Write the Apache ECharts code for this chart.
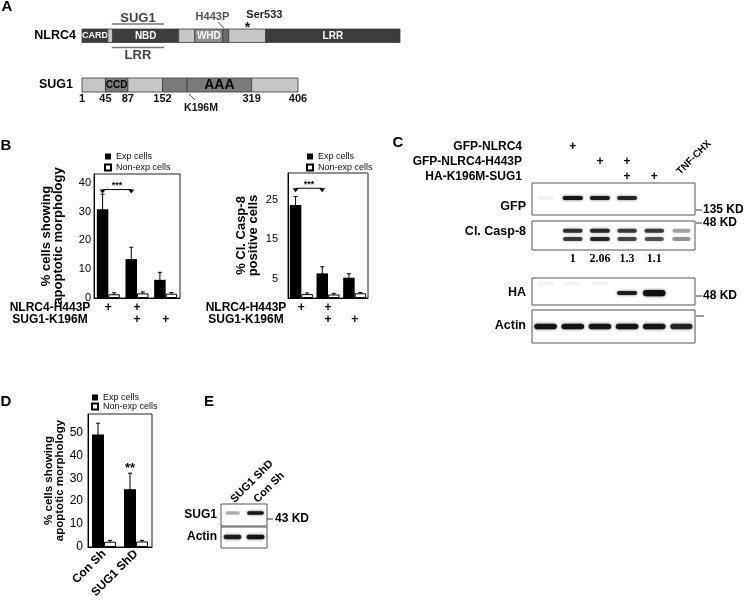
<!DOCTYPE html>
<html>
<head>
<meta charset="UTF-8">
<script src="https://cdn.jsdelivr.net/npm/echarts/dist/echarts.min.js"></script>
<style>
html, body { margin: 0; background: #fff; }
#container { width: 745px; height: 605px; }
</style>
</head>
<body>
<div id="container"></div>
<script>
// ---------- data ----------
// A: domain maps (amino-acid positions)
var nlrc4Domains = [[1, 84, 'CARD', 'core'], [84, 100, '', 'linker'], [100, 312, 'NBD', 'core'], [312, 364, '', 'linker'],
  [364, 454, 'WHD', 'whd'], [454, 473, '', 'site'], [473, 592, '', 'linker'], [592, 1024, 'LRR', 'core']];
var nlrc4Binding = [[97, 265]];
var nlrc4BindingLabels = ['SUG1', 'LRR'];
var nlrc4Sites = [[443], [533]];
var nlrc4SiteLabels = ['H443P', 'Ser533'];
var sug1Domains = [[1, 45, '', 'linker'], [45, 87, 'CCD', 'grey'], [87, 152, '', 'linker'], [152, 198, '', 'grey'],
  [198, 319, 'AAA', 'grey'], [319, 406, '', 'linker']];
var sug1Ticks = [1, 45, 87, 152, 319, 406];
var sug1Mutation = [[196]];
var sug1MutationLabel = 'K196M';

// B: apoptosis / cleaved caspase-8
var groupsB = ['a', 'b', 'c'];
var rowH443P = ['+', '+', ''];
var rowK196M = ['', '+', '+'];
var apopExp = [30.8, 13.5, 6.3];
var apopExpErr = [5.2, 4.1, 2.6];
var apopNon = [1.3, 1.6, 1.5];
var apopNonErr = [0.5, 0.5, 0.4];
var caspExp = [23.8, 6.3, 5.2];
var caspExpErr = [2.2, 1.7, 1.0];
var caspNon = [1.0, 0.9, 1.2];
var caspNonErr = [0.3, 0.3, 0.2];

// C: western blots, [lane, relative position in box, signal]
var lanesC = ['0', '1', '2', '3', '4', '5'];
var laneGfpNlrc4 = ['', '+', '', '', '', ''];
var laneGfpH443P = ['', '', '+', '+', '', ''];
var laneHaK196M = ['', '', '', '+', '+', ''];
var laneTnf = [[5]];
var laneTnfLabel = 'TNF-CHX';
var casp8Quant = ['', '1', '2.06', '1.3', '1.1', ''];
var gfpBands = [[0, 0.53, 0.05], [1, 0.53, 0.95], [2, 0.53, 0.9], [3, 0.53, 0.85]];
var casp8Bands = [[1, 0.66, 0.8], [2, 0.66, 0.85], [3, 0.66, 0.75], [4, 0.66, 0.75], [5, 0.66, 0.35],
  [1, 0.38, 0.75], [2, 0.38, 0.85], [3, 0.38, 0.7], [4, 0.38, 0.65], [5, 0.38, 0.4]];
var haBands = [[0, 0.8, 0.05], [1, 0.8, 0.05], [2, 0.8, 0.05], [3, 0.44, 0.9], [4, 0.44, 1.6]];
var actinBands = [[0, 0.5, 0.95], [1, 0.5, 0.95], [2, 0.5, 0.95], [3, 0.5, 0.95], [4, 0.5, 0.95], [5, 0.5, 0.85]];

// D: knock-down
var shGroups = ['Con Sh', 'SUG1 ShD'];
var shExp = [49.1, 25.2];
var shExpErr = [4.9, 7.0];
var shNon = [2.3, 2.4];
var shNonErr = [0.6, 0.5];
var shStars = [[1, 34.3]];

// E: knock-down blot
var lanesE = ['SUG1 ShD', 'Con Sh'];
var sug1KdBands = [[0, 0.59, 0.3], [1, 0.59, 0.95]];
var actinKdBands = [[0, 0.52, 0.9], [1, 0.52, 0.95]];

// ---------- helpers ----------
var FONT = '"Liberation Sans", Arial, sans-serif';
function f(size, bold) { return (bold ? 'bold ' : '') + size + 'px ' + FONT; }
function textEl(x, y, text, font, fill, align) {
  align = align || 'center';
  return { type: 'text', x: x, y: y, style: { text: text, font: font, fill: fill || '#000',
    align: align, verticalAlign: 'middle', textAlign: align, textVerticalAlign: 'middle' } };
}
function lineEl(x1, y1, x2, y2, color, w) {
  return { type: 'line', shape: { x1: x1, y1: y1, x2: x2, y2: y2 }, style: { stroke: color || '#000', lineWidth: w || 1 } };
}
var domainFill = { core: '#3d3d3d', linker: '#c6c6c6', whd: '#8e8e8e', site: '#6a6a6a', grey: '#7b7b7b' };
var domainFont = { CARD: f(9, true), NBD: f(10, true), WHD: f(10, true), LRR: f(10, true), CCD: f(10, true), AAA: f(14, true) };

function domainItem(list, fill) {
  return function (params, api) {
    var d = list[params.dataIndex];
    var a = api.coord([d[0], 1]), b = api.coord([d[1], 0]);
    var kids = [{ type: 'rect', shape: { x: a[0], y: a[1], width: b[0] - a[0], height: b[1] - a[1] },
      style: { fill: domainFill[d[3]], stroke: '#3a3a3a', lineWidth: 0.8 } }];
    if (d[2]) kids.push(textEl((a[0] + b[0]) / 2, (a[1] + b[1]) / 2, d[2], domainFont[d[2]], fill));
    return { type: 'group', children: kids };
  };
}
function bindingItem(params, api) {
  var d = nlrc4Binding[params.dataIndex];
  var a = api.coord([d[0], 1]), b = api.coord([d[1], 0]);
  var mid = (a[0] + b[0]) / 2;
  return { type: 'group', children: [
    lineEl(a[0], a[1] - 5, b[0], a[1] - 5, '#777', 1.5),
    textEl(mid, a[1] - 11, nlrc4BindingLabels[0], f(13, true), '#444'),
    lineEl(a[0], b[1] + 5, b[0], b[1] + 5, '#777', 1.5),
    textEl(mid, b[1] + 13, nlrc4BindingLabels[1], f(13, true), '#444')
  ] };
}
function siteItem(params, api) {
  var p = api.coord([nlrc4Sites[params.dataIndex][0], 1]);
  if (params.dataIndex === 0) {
    return { type: 'group', children: [
      lineEl(p[0] - 1.5, p[1] - 7, p[0] + 4.5, p[1] - 1, '#333', 0.8),
      textEl(p[0] - 7, p[1] - 12, nlrc4SiteLabels[0], f(11, true), '#555')
    ] };
  }
  return { type: 'group', children: [
    textEl(p[0], p[1] - 1, '*', f(14, true), '#222'),
    textEl(p[0] + 17, p[1] - 14, nlrc4SiteLabels[1], f(11, true), '#222')
  ] };
}
function tickItem(params, api) {
  var p = api.coord([sug1Ticks[params.dataIndex], 0]);
  return textEl(p[0], p[1] + 7, String(sug1Ticks[params.dataIndex]), f(11, true), '#111');
}
function mutationItem(params, api) {
  var p = api.coord([sug1Mutation[params.dataIndex][0], 0]);
  return { type: 'group', children: [
    lineEl(p[0] + 3, p[1] + 2, p[0] + 9, p[1] + 8, '#333', 0.8),
    textEl(p[0] + 15, p[1] + 16, sug1MutationLabel, f(10.5, true), '#111')
  ] };
}
function tnfItem(params, api) {
  var p = api.coord([laneTnf[params.dataIndex][0], 1]);
  var t = textEl(p[0] - 3, p[1] - 10, laneTnfLabel, f(10, true), '#000', 'left');
  t.rotation = Math.PI / 4;
  return t;
}
function errItem(barW, side) {
  return function (params, api) {
    var v = api.value(1), e = api.value(2);
    var lo = api.coord([api.value(0), v - e]);
    var hi = api.coord([api.value(0), v + e]);
    var x = lo[0] + side * barW / 2;
    return { type: 'group', children: [lineEl(x, lo[1], x, hi[1]), lineEl(x - 2, hi[1], x + 2, hi[1])] };
  };
}
function bracketItem(barW, label) {
  return function (params, api) {
    var a = api.coord([api.value(0), api.value(2)]);
    var b = api.coord([api.value(1), api.value(2)]);
    var x0 = a[0] - barW / 2, x1 = b[0] - barW / 2, y = a[1];
    function tri(x) { return { type: 'polygon', shape: { points: [[x - 3, y], [x + 3, y], [x, y + 4]] }, style: { fill: '#000' } }; }
    return { type: 'group', children: [lineEl(x0, y, x1, y), tri(x0), tri(x1), textEl((x0 + x1) / 2, y - 4, label, f(9, true))] };
  };
}
function starItem(barW, label) {
  return function (params, api) {
    var p = api.coord([api.value(0), api.value(1)]);
    return textEl(p[0] - barW / 2, p[1], label, f(13, true));
  };
}
function bandItem(thick, frac) {
  return function (params, api) {
    var c = api.coord([api.value(0), api.value(1)]);
    var laneW = api.size([1, 0])[0];
    var s = api.value(2);
    var h = thick * Math.max(1, s);
    var w = laneW * frac * Math.min(1.15, 0.85 + 0.2 * s);
    var a = Math.min(1, s);
    return { type: 'rect', shape: { x: c[0] - w / 2, y: c[1] - h / 2, width: w, height: h, r: h / 2 },
      style: { fill: 'rgba(15,15,15,' + a + ')', shadowBlur: 3, shadowColor: 'rgba(0,0,0,' + (a * 0.7) + ')' } };
  };
}

// ---------- axes ----------
function hiddenX(gi, data, min, max) {
  return data ? { gridIndex: gi, type: 'category', data: data, show: false }
    : { gridIndex: gi, type: 'value', min: min, max: max, show: false };
}
function hiddenY(gi) { return { gridIndex: gi, type: 'value', min: 0, max: 1, show: false }; }
function plotGrid(l, t, w, h, color) {
  return { left: l, top: t, width: w, height: h, show: true, borderColor: color, borderWidth: 1,
    backgroundColor: '#fff', containLabel: false, outerBoundsMode: 'none' };
}
function mapGrid(l, t, w, h) { return { left: l, top: t, width: w, height: h, containLabel: false, outerBoundsMode: 'none' }; }

var plusAxisLabel = {
  interval: 0, margin: 4, fontSize: 12, fontWeight: 'bold', lineHeight: 12, color: '#000', fontFamily: FONT,
  formatter: function (v, i) { return (rowH443P[i] || '\u00a0') + '\n' + (rowK196M[i] || '\u00a0'); }
};
function valueY(gi, max, name, nameGap, nameSize, labelSize, margin, formatter) {
  return { gridIndex: gi, type: 'value', min: 0, max: max, interval: formatter ? 5 : 10,
    axisLine: { show: true, lineStyle: { color: '#000' } }, axisTick: { show: false }, splitLine: { show: false },
    axisLabel: { fontSize: labelSize, margin: margin, color: '#000', fontFamily: FONT, showMaxLabel: false,
      formatter: formatter || '{value}' },
    name: name, nameLocation: 'middle', nameGap: nameGap,
    nameTextStyle: { fontSize: nameSize, fontWeight: 'bold', lineHeight: nameSize - 1, color: '#000', fontFamily: FONT } };
}

var legendBase = { data: ['Exp cells', 'Non-exp cells'], orient: 'vertical', padding: 0, itemWidth: 6, itemHeight: 6,
  itemGap: 2, icon: 'rect', selectedMode: false, textStyle: { fontSize: 9, color: '#111', fontFamily: FONT } };

var myChart = echarts.init(document.getElementById('container'));
var option = {
  animation: false,
  backgroundColor: '#fff',
  textStyle: { fontFamily: FONT },
  grid: [
    mapGrid(82, 29, 318, 13.5),          // 0 NLRC4
    mapGrid(82, 78, 216, 14),            // 1 SUG1
    plotGrid(94, 174, 86, 124, '#222'),  // 2 B left
    plotGrid(288, 173, 80, 125, '#222'), // 3 B right
    plotGrid(532, 183, 163, 32, '#555'), // 4 GFP
    plotGrid(532, 221, 163, 29, '#555'), // 5 Cl. Casp-8
    plotGrid(532, 278, 163, 27, '#555'), // 6 HA
    plotGrid(532, 310, 163, 33, '#555'), // 7 Actin
    plotGrid(88, 414, 64, 133, '#222'),  // 8 D
    plotGrid(221, 504, 46, 22, '#555'),  // 9 E SUG1
    plotGrid(221, 527, 46, 21, '#555')   // 10 E Actin
  ],
  xAxis: [
    hiddenX(0, null, 1, 1024),
    hiddenX(1, null, 1, 406),
    { gridIndex: 2, type: 'category', data: groupsB, axisLine: { lineStyle: { color: '#000' } }, axisTick: { show: false }, axisLabel: plusAxisLabel },
    { gridIndex: 3, type: 'category', data: groupsB, axisLine: { lineStyle: { color: '#000' } }, axisTick: { show: false }, axisLabel: plusAxisLabel },
    { gridIndex: 4, type: 'category', data: lanesC, position: 'top', axisLine: { show: false }, axisTick: { show: false },
      axisLabel: { interval: 0, margin: -1, fontSize: 12, fontWeight: 'bold', lineHeight: 15, color: '#000', fontFamily: FONT,
        formatter: function (v, i) { return [laneGfpNlrc4[i] || '\u00a0', laneGfpH443P[i] || '\u00a0', laneHaK196M[i] || '\u00a0'].join('\n'); } } },
    hiddenX(4, lanesC),
    { gridIndex: 5, type: 'category', data: lanesC, axisLine: { show: false }, axisTick: { show: false },
      axisLabel: { interval: 0, margin: 3, fontSize: 12, fontWeight: 'bold', color: '#000', fontFamily: '"Liberation Serif", serif',
        formatter: function (v, i) { return casp8Quant[i]; } } },
    hiddenX(6, lanesC),
    hiddenX(7, lanesC),
    { gridIndex: 8, type: 'category', data: shGroups, axisLine: { lineStyle: { color: '#000' } }, axisTick: { show: false },
      axisLabel: { interval: 0, rotate: 45, margin: 5, fontSize: 12, fontWeight: 'bold', color: '#000', fontFamily: FONT } },
    { gridIndex: 9, type: 'category', data: lanesE, position: 'top', axisLine: { show: false }, axisTick: { show: false },
      axisLabel: { interval: 0, rotate: 45, margin: 3, fontSize: 11, fontWeight: 'bold', color: '#000', fontFamily: FONT } },
    hiddenX(10, lanesE)
  ],
  yAxis: [
    hiddenY(0), hiddenY(1),
    valueY(2, 43, '% cells showing\napoptotic morphology', 30, 13, 11, 3),
    valueY(3, 32, '% Cl. Casp-8\npositive cells', 29, 13, 11, 10, function (v) { return v % 10 === 5 ? v : ''; }),
    hiddenY(4), hiddenY(5), hiddenY(6), hiddenY(7),
    valueY(8, 58, '% cells showing\napoptotic morphology', 22, 11.5, 12, 5),
    hiddenY(9), hiddenY(10)
  ],
  legend: [
    Object.assign({ left: 104, top: 152 }, legendBase),
    Object.assign({ left: 306, top: 152 }, legendBase),
    Object.assign({ left: 91, top: 393 }, legendBase, { itemGap: 0 })
  ],
  graphic: { elements: [
    textEl(7, 7, 'A', f(15, true)),
    textEl(6, 146, 'B', f(15, true)),
    textEl(398, 143, 'C', f(15, true)),
    textEl(6, 402, 'D', f(15, true)),
    textEl(209, 402, 'E', f(15, true)),
    textEl(76, 35.5, 'NLRC4', f(12.5, true), '#000', 'right'),
    textEl(73, 85, 'SUG1', f(12.5, true), '#000', 'right'),
    textEl(50, 308, 'NLRC4-H443P', f(12, true)),
    textEl(50, 320, 'SUG1-K196M', f(12, true)),
    textEl(246, 308, 'NLRC4-H443P', f(12, true)),
    textEl(246, 320, 'SUG1-K196M', f(12, true)),
    textEl(522, 147, 'GFP-NLRC4', f(12, true), '#000', 'right'),
    textEl(522, 162, 'GFP-NLRC4-H443P', f(12, true), '#000', 'right'),
    textEl(522, 177, 'HA-K196M-SUG1', f(12, true), '#000', 'right'),
    textEl(526, 207, 'GFP', f(12.5, true), '#000', 'right'),
    textEl(526, 232, 'Cl. Casp-8', f(12.5, true), '#000', 'right'),
    textEl(526, 293, 'HA', f(12.5, true), '#000', 'right'),
    textEl(526, 326, 'Actin', f(12.5, true), '#000', 'right'),
    lineEl(696, 210, 702, 210, '#333'), textEl(703, 210, '135 KD', f(12, true), '#000', 'left'),
    lineEl(696, 223, 702, 223, '#333'), textEl(703, 223, '48 KD', f(12, true), '#000', 'left'),
    lineEl(696, 296, 702, 296, '#333'), textEl(703, 296, '48 KD', f(12, true), '#000', 'left'),
    lineEl(696, 316, 704, 316, '#333'),
    textEl(217, 515, 'SUG1', f(12, true), '#000', 'right'),
    textEl(217, 537, 'Actin', f(12, true), '#000', 'right'),
    lineEl(267, 519, 273, 519, '#333'), textEl(275, 519, '43 KD', f(12, true), '#000', 'left')
  ] },
  series: [
    // A
    { type: 'custom', name: 'nlrc4', xAxisIndex: 0, yAxisIndex: 0, silent: true,
      data: nlrc4Domains.map(function (d) { return [d[0], d[1]]; }), renderItem: domainItem(nlrc4Domains, '#fff') },
    { type: 'custom', name: 'binding', xAxisIndex: 0, yAxisIndex: 0, silent: true, data: nlrc4Binding, renderItem: bindingItem },
    { type: 'custom', name: 'sites', xAxisIndex: 0, yAxisIndex: 0, silent: true, data: nlrc4Sites, renderItem: siteItem },
    { type: 'custom', name: 'sug1', xAxisIndex: 1, yAxisIndex: 1, silent: true,
      data: sug1Domains.map(function (d) { return [d[0], d[1]]; }), renderItem: domainItem(sug1Domains, '#000') },
    { type: 'custom', name: 'ticks', xAxisIndex: 1, yAxisIndex: 1, silent: true,
      data: sug1Ticks.map(function (v) { return [v]; }), renderItem: tickItem },
    { type: 'custom', name: 'mutation', xAxisIndex: 1, yAxisIndex: 1, silent: true, data: sug1Mutation, renderItem: mutationItem },
    // B left
    { type: 'bar', name: 'Exp cells', xAxisIndex: 2, yAxisIndex: 2, data: apopExp, barWidth: 11.5, barGap: '0%', itemStyle: { color: '#000' } },
    { type: 'bar', name: 'Non-exp cells', xAxisIndex: 2, yAxisIndex: 2, data: apopNon, barWidth: 11.5, barGap: '0%',
      itemStyle: { color: '#fff', borderColor: '#000', borderWidth: 1 } },
    { type: 'custom', name: 'err1', xAxisIndex: 2, yAxisIndex: 2, silent: true,
      data: apopExp.map(function (v, i) { return [i, v, apopExpErr[i]]; }), renderItem: errItem(11.5, -1) },
    { type: 'custom', name: 'err2', xAxisIndex: 2, yAxisIndex: 2, silent: true,
      data: apopNon.map(function (v, i) { return [i, v, apopNonErr[i]]; }), renderItem: errItem(11.5, 1) },
    { type: 'custom', name: 'sig1', xAxisIndex: 2, yAxisIndex: 2, silent: true, data: [[0, 1, 37.6]], renderItem: bracketItem(11.5, '***') },
    // B right
    { type: 'bar', name: 'Exp cells', xAxisIndex: 3, yAxisIndex: 3, data: caspExp, barWidth: 11.5, barGap: '0%', itemStyle: { color: '#000' } },
    { type: 'bar', name: 'Non-exp cells', xAxisIndex: 3, yAxisIndex: 3, data: caspNon, barWidth: 11.5, barGap: '0%',
      itemStyle: { color: '#fff', borderColor: '#000', borderWidth: 1 } },
    { type: 'custom', name: 'err3', xAxisIndex: 3, yAxisIndex: 3, silent: true,
      data: caspExp.map(function (v, i) { return [i, v, caspExpErr[i]]; }), renderItem: errItem(11.5, -1) },
    { type: 'custom', name: 'err4', xAxisIndex: 3, yAxisIndex: 3, silent: true,
      data: caspNon.map(function (v, i) { return [i, v, caspNonErr[i]]; }), renderItem: errItem(11.5, 1) },
    { type: 'custom', name: 'sig2', xAxisIndex: 3, yAxisIndex: 3, silent: true, data: [[0, 1, 28.1]], renderItem: bracketItem(11.5, '***') },
    // C blots
    { type: 'custom', name: 'tnf', xAxisIndex: 5, yAxisIndex: 4, silent: true, data: laneTnf, renderItem: tnfItem, clip: false },
    { type: 'custom', name: 'gfp', xAxisIndex: 4, yAxisIndex: 4, silent: true, data: gfpBands, renderItem: bandItem(4, 0.72) },
    { type: 'custom', name: 'casp8', xAxisIndex: 6, yAxisIndex: 5, silent: true, data: casp8Bands, renderItem: bandItem(4, 0.72) },
    { type: 'custom', name: 'ha', xAxisIndex: 7, yAxisIndex: 6, silent: true, data: haBands, renderItem: bandItem(4, 0.72) },
    { type: 'custom', name: 'actin', xAxisIndex: 8, yAxisIndex: 7, silent: true, data: actinBands, renderItem: bandItem(5.5, 0.8) },
    // D
    { type: 'bar', name: 'Exp cells', xAxisIndex: 9, yAxisIndex: 8, data: shExp, barWidth: 12, barGap: '0%', itemStyle: { color: '#000' } },
    { type: 'bar', name: 'Non-exp cells', xAxisIndex: 9, yAxisIndex: 8, data: shNon, barWidth: 12, barGap: '0%',
      itemStyle: { color: '#fff', borderColor: '#000', borderWidth: 1 } },
    { type: 'custom', name: 'err5', xAxisIndex: 9, yAxisIndex: 8, silent: true,
      data: shExp.map(function (v, i) { return [i, v, shExpErr[i]]; }), renderItem: errItem(12, -1) },
    { type: 'custom', name: 'err6', xAxisIndex: 9, yAxisIndex: 8, silent: true,
      data: shNon.map(function (v, i) { return [i, v, shNonErr[i]]; }), renderItem: errItem(12, 1) },
    { type: 'custom', name: 'sig3', xAxisIndex: 9, yAxisIndex: 8, silent: true, data: shStars, renderItem: starItem(12, '**') },
    // E blots
    { type: 'custom', name: 'sug1kd', xAxisIndex: 10, yAxisIndex: 9, silent: true, data: sug1KdBands, renderItem: bandItem(3.5, 0.7) },
    { type: 'custom', name: 'actinkd', xAxisIndex: 11, yAxisIndex: 10, silent: true, data: actinKdBands, renderItem: bandItem(4.5, 0.75) }
  ]
};
myChart.setOption(option);
</script>
</body>
</html>
